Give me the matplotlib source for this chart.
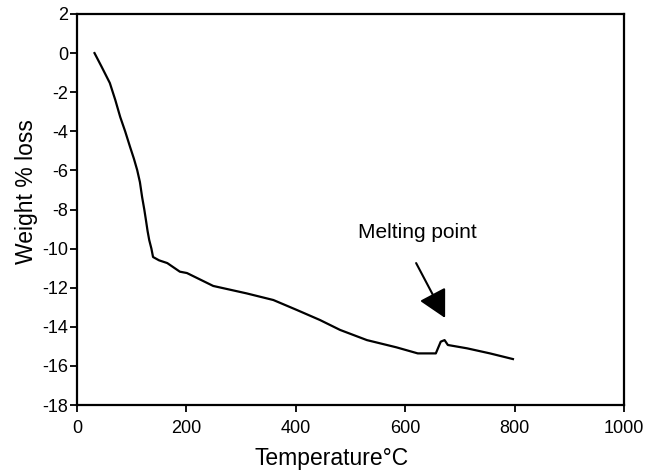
import matplotlib
matplotlib.use("Agg")
import matplotlib.pyplot as plt

plt.rcParams['font.family'] = ['Liberation Sans', 'DejaVu Sans']
plt.rcParams['axes.unicode_minus'] = False

# TGA curve
temp = [32, 45, 60, 70, 79, 88, 97, 104, 110, 115, 119, 123, 126, 129, 132, 136,
        139, 150, 165, 188, 201, 249, 310, 359, 402, 444, 481, 530, 584, 623,
        656, 665, 672, 678, 713, 755, 797]
weight = [0.0, -0.7, -1.53, -2.4, -3.27, -4.0, -4.8, -5.4, -5.98, -6.6, -7.36, -8.0,
          -8.54, -9.1, -9.56, -10.0, -10.43, -10.6, -10.74, -11.18, -11.25, -11.91,
          -12.29, -12.63, -13.14, -13.65, -14.16, -14.68, -15.05, -15.36,
          -15.36, -14.76, -14.68, -14.93, -15.1, -15.36, -15.65]

xticks = [0, 200, 400, 600, 800, 1000]
yticks = list(range(-18, 3, 2))

fig = plt.figure(figsize=(6.45, 4.71), dpi=100)
ax = fig.add_axes([0.1194, 0.1401, 0.8480, 0.8302])

ax.plot(temp, weight, color='black', linewidth=1.6)

ax.set_xlim(0, 1000)
ax.set_ylim(-18, 2)
ax.set_xticks(xticks)
ax.set_yticks(yticks)
ax.tick_params(direction='out', length=5, width=1.3, labelsize=13,
               top=False, right=False)
ax.tick_params(axis='x', pad=6)
ax.tick_params(axis='y', pad=1.5)
for s in ax.spines.values():
    s.set_linewidth(1.6)

ax.set_xlabel('Temperature\u00b0C', fontsize=16.5, va='center')
ax.xaxis.set_label_coords(0.465, -0.138)
ax.set_ylabel('Weight % loss', fontsize=16.5, va='center')
ax.yaxis.set_label_coords(-0.093, 0.545)

ax.text(622, -9.2, 'Melting point', ha='center', va='center', fontsize=15)
ax.annotate('', xy=(673, -13.55), xytext=(620, -10.74),
            arrowprops=dict(arrowstyle='-|>,head_length=1.7,head_width=0.9',
                            mutation_scale=10, color='black', lw=1.5,
                            shrinkA=0, shrinkB=0))

fig.savefig('out.png', dpi=100)
